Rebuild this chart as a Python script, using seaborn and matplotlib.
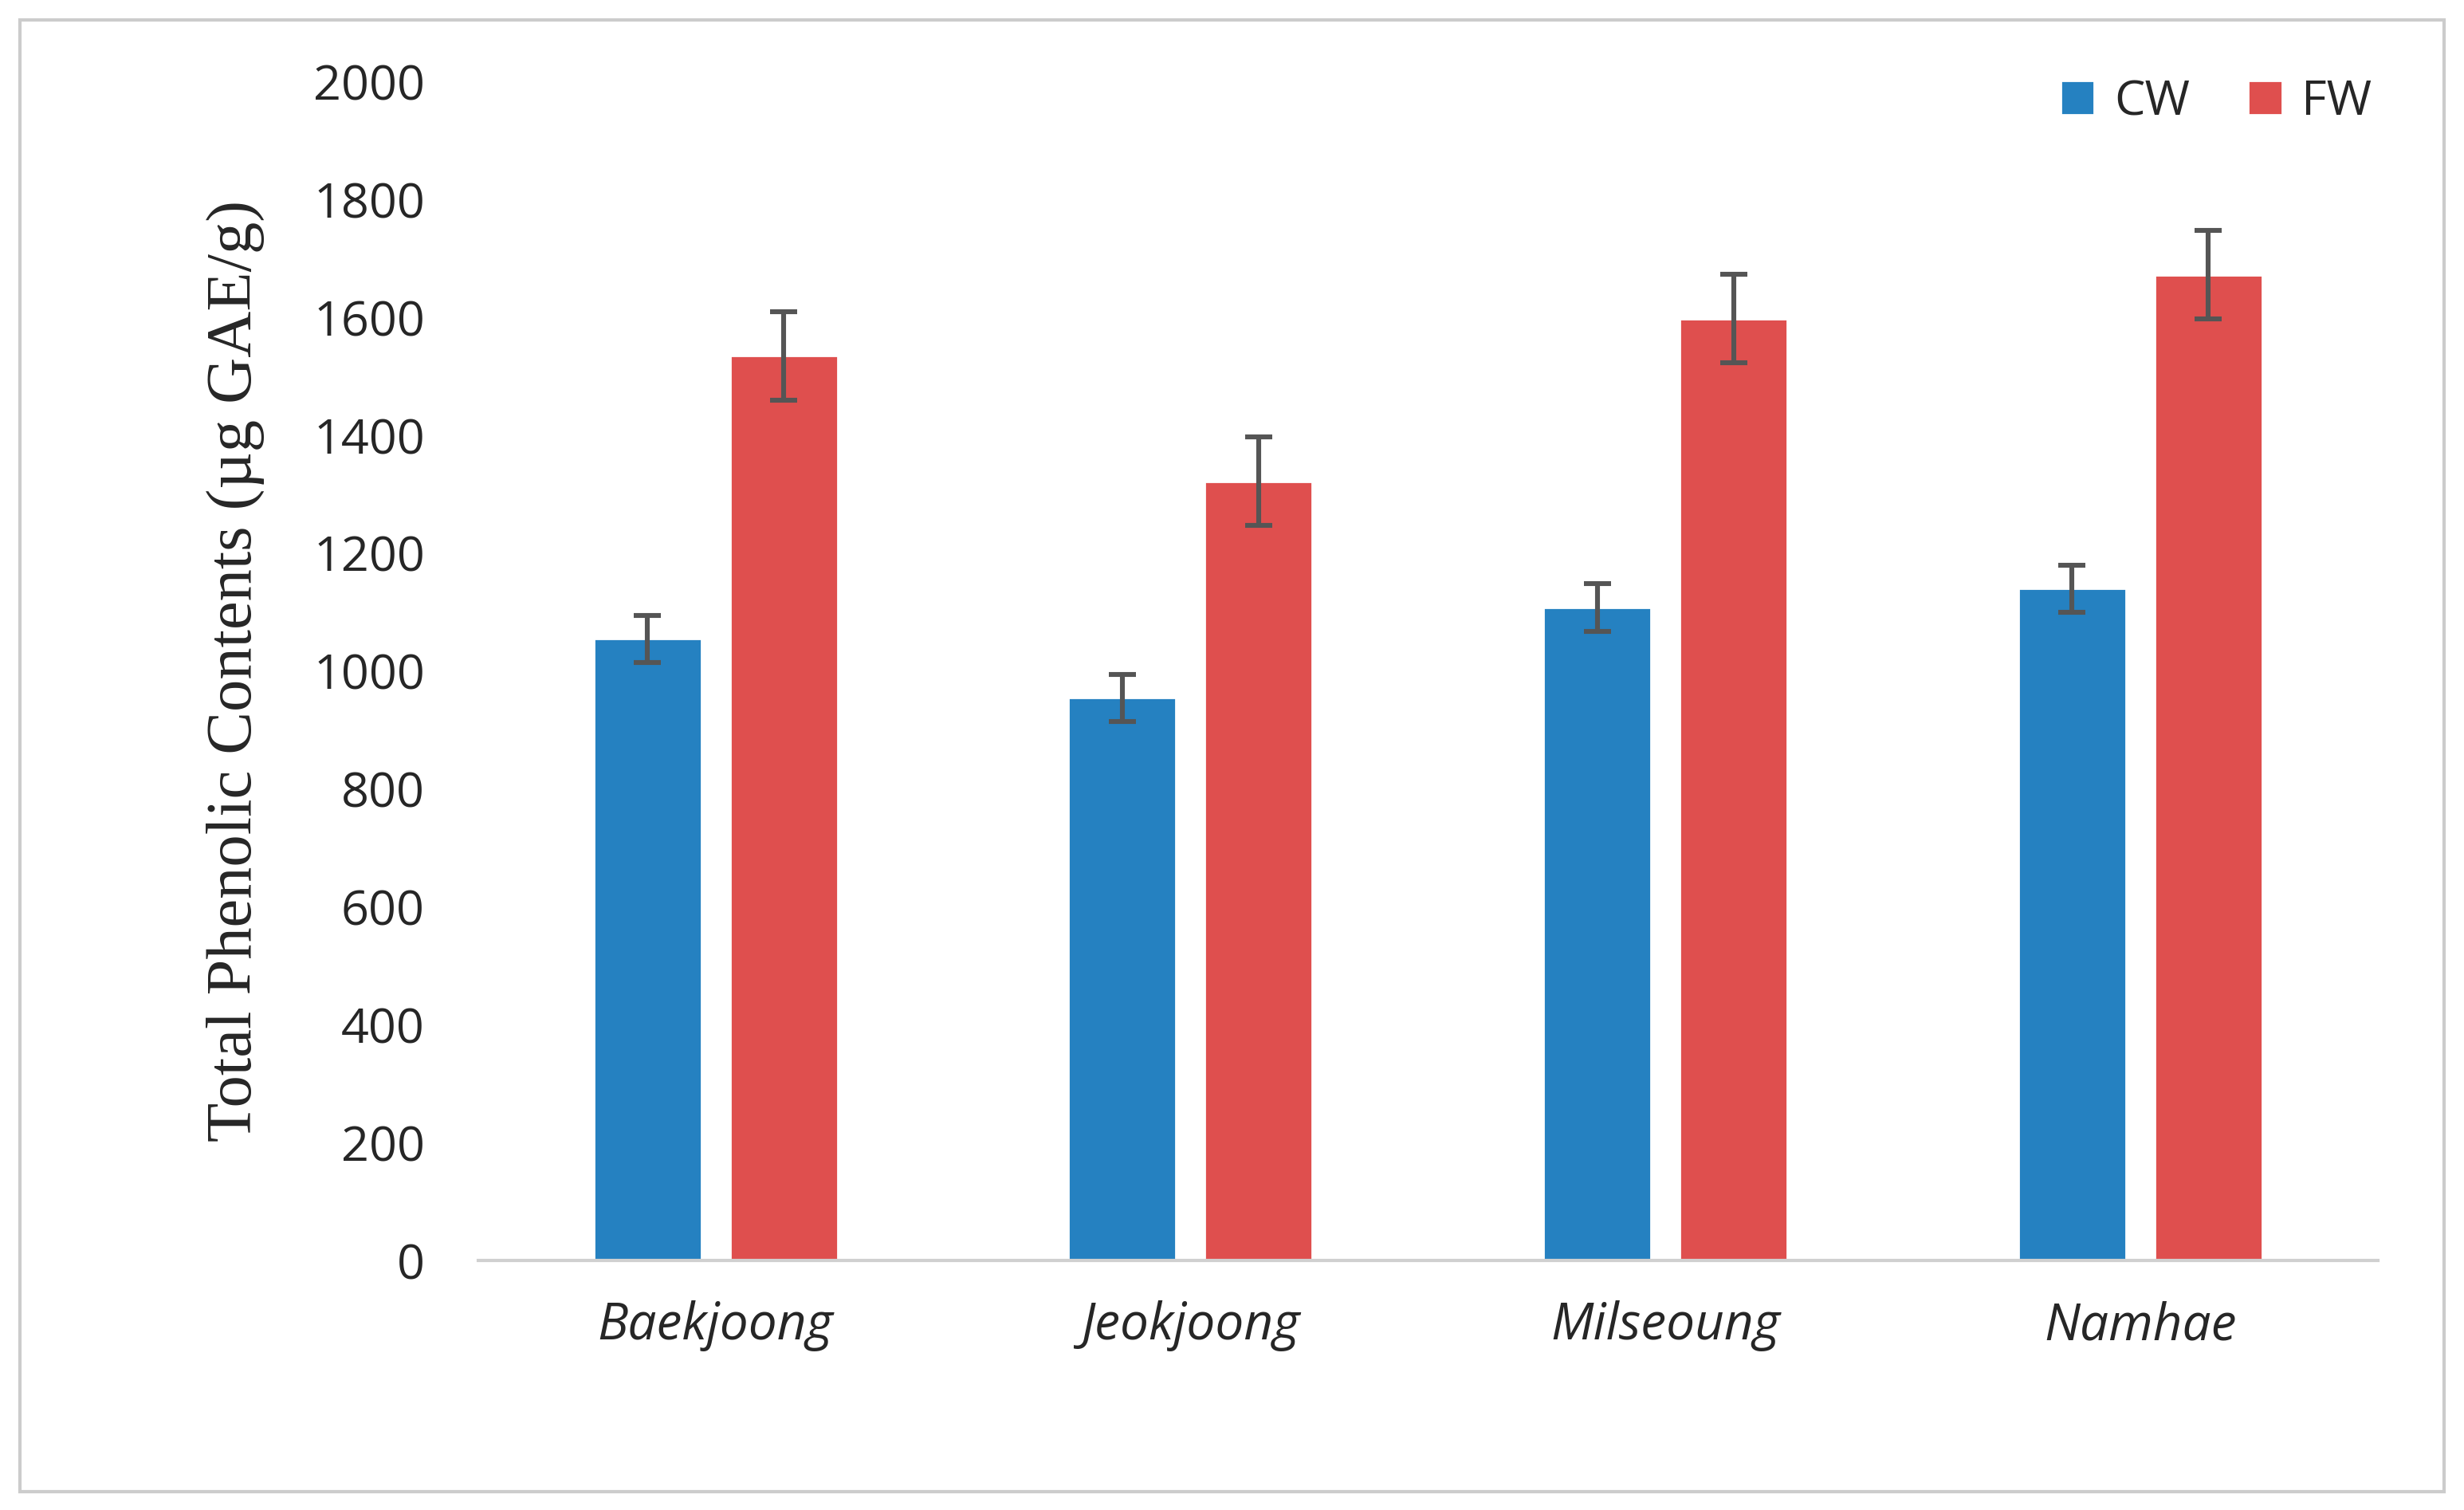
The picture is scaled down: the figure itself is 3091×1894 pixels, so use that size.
import numpy as np
import pandas as pd
import matplotlib
matplotlib.use("Agg")
import matplotlib.pyplot as plt
import seaborn as sns
from matplotlib.patches import Rectangle

cultivars = ["Baekjoong", "Jeokjoong", "Milseoung", "Namhae"]
groups = ["CW", "FW"]
cw_values = [1055, 955, 1108, 1140]
fw_values = [1535, 1322, 1598, 1672]
cw_err = [40, 40, 40, 40]
fw_err = [75, 75, 75, 75]

df = pd.DataFrame({
    "cultivar": cultivars * 2,
    "group": ["CW"] * 4 + ["FW"] * 4,
    "value": cw_values + fw_values,
    "err": cw_err + fw_err,
})

sns.set_theme(style="white")
plt.rcParams["font.family"] = ["Open Sans", "DejaVu Sans"]

fig = plt.figure(figsize=(15.455, 9.47), dpi=200)
ax = fig.add_axes([0.194, 0.165, 0.771, 0.781])

palette = {"CW": "#2581C1", "FW": "#DF4F4E"}
sns.barplot(data=df, x="cultivar", y="value", hue="group", hue_order=groups,
            order=cultivars, palette=palette, width=0.574, gap=0.21,
            errorbar=None, saturation=1, ax=ax)

# error bars from the drawn bars
for cont, g in zip(ax.containers, groups):
    sub = df[df.group == g].set_index("cultivar").loc[cultivars]
    xs = [p.get_x() + p.get_width() / 2 for p in cont.patches]
    ax.errorbar(xs, sub["value"], yerr=sub["err"], fmt="none",
                ecolor="#555555", elinewidth=2.2, capsize=6, capthick=2.2)

ax.set_xlim(-0.5, 3.5)
ax.set_ylim(0, 2000)
ax.set_yticks(range(0, 2001, 200))
ax.tick_params(axis="y", labelsize=22, length=0, pad=24)
ax.tick_params(axis="x", labelsize=23, length=0, pad=18)
for lbl in ax.get_xticklabels():
    lbl.set_style("italic")
ax.set_xlabel("")
ax.set_ylabel("Total Phenolic Contents (\u00b5g GAE/g)", family="Liberation Serif",
              fontsize=29, labelpad=22)
for s in ["top", "right", "left"]:
    ax.spines[s].set_visible(False)
ax.spines["bottom"].set_color("#d0d0d0")
ax.spines["bottom"].set_linewidth(1.5)

ax.legend(title=None, loc="upper right", bbox_to_anchor=(1.02, 1.04), ncol=2,
          frameon=False, fontsize=22, handlelength=0.7, handleheight=0.7,
          columnspacing=1.2, handletextpad=0.4)

fig.patches.append(Rectangle((0.008, 0.012), 0.984, 0.975, transform=fig.transFigure,
                             fill=False, edgecolor="#cccccc", linewidth=1.5))

fig.savefig("out.png", dpi=200)
